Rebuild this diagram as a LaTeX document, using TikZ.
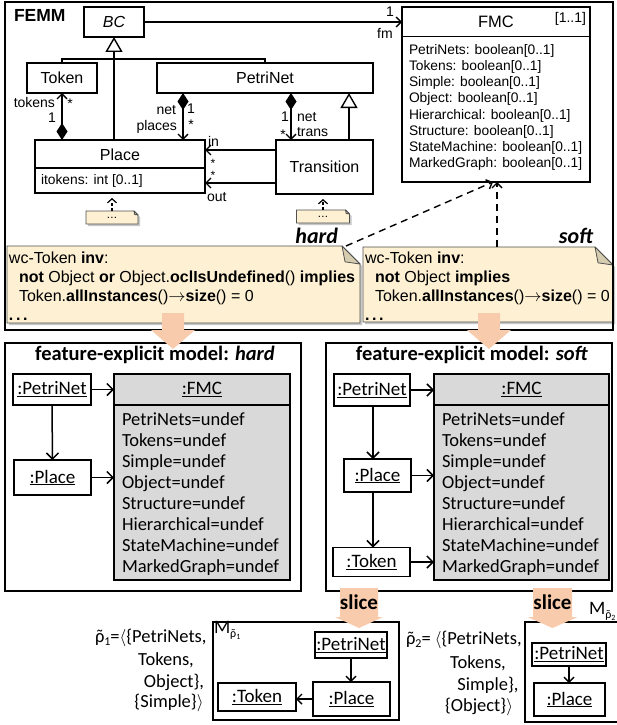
\documentclass[tikz,border=0pt]{standalone}
\usepackage{fontspec}
\setmainfont{Liberation Sans}
\newfontfamily\carl{Carlito}
\usetikzlibrary{arrows.meta,backgrounds,calc}

\definecolor{notefill}{RGB}{253,240,211}
\definecolor{notefold}{RGB}{214,204,176}
\definecolor{noteline}{RGB}{80,80,80}
\definecolor{salmon}{RGB}{248,203,173}
\definecolor{objgray}{RGB}{217,217,217}

\newcommand\fsz[2]{\fontsize{#1}{#2}\selectfont}
\newcommand\rhot{\ooalign{ρ\cr\hidewidth˜\hidewidth\cr}}
% note outline with folded corner: node, fold size
\newcommand\notedraw[2]{%
  \fill[black!22] ([xshift=2pt,yshift=-2pt]#1.north west) -- ([xshift=2pt-#2,yshift=-2pt]#1.north east)
     -- ([xshift=2pt,yshift=-2pt-#2]#1.north east) -- ([xshift=2pt,yshift=-2pt]#1.south east)
     -- ([xshift=2pt,yshift=-2pt]#1.south west) -- cycle;
  \filldraw[fill=notefill, draw=noteline, line width=0.8pt] (#1.north west) -- ([xshift=-#2]#1.north east)
     -- ([yshift=-#2]#1.north east) -- (#1.south east) -- (#1.south west) -- cycle;
  \filldraw[fill=notefold, draw=noteline, line width=0.8pt, line join=round] ([xshift=-#2]#1.north east)
     -- ([xshift=-#2+0.17*#2,yshift=-0.88*#2]#1.north east) -- ([yshift=-#2]#1.north east) -- cycle;}
% broad arrow: x, top y, tip y, half shaft, half head, head length
\newcommand\fatarrow[6]{%
  \fill[salmon] (#1-#4,#2) -- (#1+#4,#2) -- (#1+#4,#3-#6) -- (#1+#5,#3-#6) -- (#1,#3)
     -- (#1-#5,#3-#6) -- (#1-#4,#3-#6) -- cycle;}

\tikzset{
  every node/.style={outer sep=0pt, inner sep=0pt},
  frame/.style={draw, line width=1.6pt},
  cls/.style={draw, line width=1.5pt, font=\fsz{16}{19}},
  attrs/.style={font=\fsz{13.8}{16.15}, align=left, anchor=north west},
  lbl/.style={font=\fsz{14}{16}},
  link/.style={line width=1.4pt},
  comp/.style={link, {Diamond[length=17pt,width=11pt]}-{Straight Barb[length=5pt,width=10pt]}},
  gen/.style={link, -{Triangle[open,length=15pt,width=17pt]}},
  assoc/.style={link, -{Straight Barb[length=5pt,width=10pt]}},
  depend/.style={line width=1.2pt, dash pattern=on 3pt off 2.5pt, -{Straight Barb[length=4pt,width=9pt]}},
  depend2/.style={line width=1.4pt, dash pattern=on 7pt off 5pt, -{Straight Barb[length=5pt,width=10pt]}},
  notetext/.style={font=\fsz{16}{19}, align=left, anchor=north west},
  hslabel/.style={font=\carl\bfseries\itshape\fsz{22}{24}, anchor=east},
  objframe/.style={draw, line width=1.6pt},
  obj/.style={draw, line width=1.6pt, font=\carl\fsz{19}{21}},
  fmcobj/.style={draw, fill=objgray, line width=1.6pt},
  vals/.style={font=\carl\fsz{18.5}{21}, align=left, anchor=north west},
  ttl/.style={font=\carl\bfseries\fsz{20.5}{23}},
  objarrow/.style={line width=1.5pt, -{Straight Barb[length=6pt,width=12pt]}},
  smallarrow/.style={line width=1.4pt, -{Straight Barb[length=5pt,width=10pt]}},
  rho/.style={font=\carl\fsz{18.5}{21}},
  slicelbl/.style={font=\carl\bfseries\fsz{21}{23}},
}

\begin{document}
\begin{tikzpicture}[x=1pt,y=-1pt]
\useasboundingbox (0,0) rectangle (616,725);
\begin{scope}[on background layer]
  \fill[white] (0,0) rectangle (616,725);
\end{scope}

% ---------------- metamodel with feature model class ----------------
\node[frame, minimum width=608, minimum height=328, anchor=north west] (femm) at (5,2) {};
\node[anchor=west, font=\bfseries\fsz{17.5}{20}] (femmlbl) at (14,15) {FEMM};

\node[cls, minimum width=60, minimum height=30, font=\itshape\fsz{16}{19}] (bc) at (114,22) {BC};
\node[cls, minimum width=70, minimum height=30] (token) at (62,78) {Token};
\node[cls, minimum width=216, minimum height=30] (petri) at (265,78) {PetriNet};
\node[cls, minimum width=170, minimum height=53] (place) at (120,166.5) {};
\node[font=\fsz{16}{19}] (placename) at (120,154.5) {Place};
\draw[line width=1.5pt] ([yshift=-1.5pt]place.west) -- ([yshift=-1.5pt]place.east);
\node[anchor=west, font=\fsz{13.8}{16}] (itokens) at (41,181) {itokens: int [0..1]};
\node[cls, minimum width=97, minimum height=54] (trans) at (324.5,167) {Transition};

\node[cls, minimum width=188, minimum height=175] (fmc) at (496,94.5) {};
\draw[line width=1.5pt] ([yshift=-29.5pt]fmc.north west) -- ([yshift=-29.5pt]fmc.north east);
\node[font=\fsz{16.5}{19}] (fmcname) at (496,22) {FMC};
\node[anchor=east, font=\fsz{14}{16}] (fmcmult) at (586,19) {[1..1]};
\node[attrs] (fmcattrs) at (409,44.5) {PetriNets: boolean[0..1]\\Tokens: boolean[0..1]\\Simple: boolean[0..1]\\Object: boolean[0..1]\\Hierarchical: boolean[0..1]\\Structure: boolean[0..1]\\StateMachine: boolean[0..1]\\MarkedGraph: boolean[0..1]};

% association BC -> FMC
\draw[assoc] (bc.east) -- (fmc.north west |- bc.east);
\node[lbl] (mfm1) at (390,12) {1};
\node[lbl] (mfm) at (385,33) {fm};

% generalizations
\draw[gen] (bc.south |- place.north) -- (bc.south);
\coordinate (genjoin) at (114,59);
\draw[link] (token.north) |- (genjoin) -| (petri.north);
\coordinate (tgen) at ([xshift=84pt]petri.south);
\draw[gen] (tgen |- trans.north) -- (tgen);

% compositions
\draw[comp] (token.south |- place.north) -- (token.south);
\coordinate (pnplace) at ([xshift=-82pt]petri.south);
\draw[comp] (pnplace) -- (pnplace |- place.north);
\coordinate (pntrans) at ([xshift=26pt]petri.south);
\draw[comp] (pntrans) -- (pntrans |- trans.north);

% transition arcs
\coordinate (inT) at ([yshift=17pt]trans.west);
\draw[assoc] (inT) -- (inT -| place.east);
\coordinate (outT) at ([yshift=-16pt]trans.west);
\draw[assoc] (outT) -- (outT -| place.east);

% role names and multiplicities
\node[lbl, anchor=east] (rtokens) at (55,102) {tokens};
\node[lbl] (mtok) at (70,104) {*};
\node[lbl] (mtok1) at (52,118) {1};
\node[lbl, anchor=east] (rnet1) at (176,110) {net};
\node[lbl, anchor=east] (rplaces) at (177,127) {places};
\node[lbl] (mpl1) at (191,109) {1};
\node[lbl] (mpl2) at (191,125) {*};
\node[lbl] (mtr1) at (285,117) {1};
\node[lbl] (mtr2) at (283,135) {*};
\node[lbl, anchor=west] (rnet2) at (297,117) {net};
\node[lbl, anchor=west] (rtrans) at (297,132) {trans};
\node[lbl, anchor=west] (rin) at (208,141) {in};
\node[lbl, font=\fsz{12}{14}] (min) at (213,163) {*};
\node[lbl, font=\fsz{12}{14}] (mout) at (213,175) {*};
\node[lbl, anchor=west] (rout) at (207,197) {out};

% small annotation notes
\node[minimum width=52, minimum height=13, font=\bfseries\fsz{8}{8}] (dots1) at (112,217.5) {.\,.\,.};
\node[minimum width=53, minimum height=13, font=\bfseries\fsz{8}{8}] (dots2) at (323,216.5) {.\,.\,.};
\begin{scope}[on background layer]
  \notedraw{dots1}{4pt}
  \notedraw{dots2}{4pt}
\end{scope}
\draw[depend, shorten >=5pt] (dots1.north) -- (dots1.north |- place.south);
\draw[depend, shorten >=5pt] (dots2.north) -- (dots2.north |- trans.south);

% well-formedness constraints
\node[minimum width=353, minimum height=77] (hardnote) at (183.5,284.5) {};
\node[minimum width=250, minimum height=75] (softnote) at (488,284.5) {};
\begin{scope}[on background layer]
  \notedraw{hardnote}{18pt}
  \notedraw{softnote}{18pt}
\end{scope}
\node[notetext] (hardtext) at (9,251.5) {wc-Token \textbf{inv}:\\
  \hspace*{10pt}\textbf{not} Object \textbf{or} Object.\textbf{oclIsUndefined}() \textbf{implies}\\
  \hspace*{10pt}Token.\textbf{allInstances}()$\rightarrow$\textbf{size}() = 0\\
  \textbf{.\,.\,.}};
\node[notetext] (softtext) at (365,251.5) {wc-Token \textbf{inv}:\\
  \hspace*{10pt}\textbf{not} Object \textbf{implies}\\
  \hspace*{10pt}Token.\textbf{allInstances}()$\rightarrow$\textbf{size}() = 0\\
  \textbf{.\,.\,.}};
\node[hslabel] (hardlbl) at (338,236) {hard};
\node[hslabel] (softlbl) at (593,236) {soft};

\coordinate (hardtip) at ([xshift=-14pt]hardnote.north east);
\draw[depend2] (hardtip) -- ([xshift=-3pt]fmc.south);
\draw[depend2] ([xshift=9pt]softnote.north) -- ([xshift=1pt]fmc.south);

% ---------------- feature-explicit model: hard ----------------
\node[objframe, minimum width=296, minimum height=248] (hardbox) at (153,467) {};
\node[ttl] (hardttl) at (155,355) {feature-explicit model: \textit{hard}};
\node[obj, minimum width=78, minimum height=31] (hpn) at (52,389.5) {\underline{:PetriNet}};
\node[obj, minimum width=77, minimum height=35] (hplace) at (52.5,477.5) {\underline{:Place}};
\node[fmcobj, minimum width=176, minimum height=206] (hfmc) at (202,477) {};
\draw[line width=1.6pt] ([yshift=-31pt]hfmc.north west) -- ([yshift=-31pt]hfmc.north east);
\node[font=\carl\fsz{19}{21}] (hfmcname) at (202,389.5) {\underline{:FMC}};
\node[vals] (hvals) at (122,413) {PetriNets=undef\\Tokens=undef\\Simple=undef\\Object=undef\\Structure=undef\\Hierarchical=undef\\StateMachine=undef\\MarkedGraph=undef};
\draw[objarrow] (hpn.east) -- (hpn.east -| hfmc.west);
\draw[objarrow] (hplace.east) -- (hplace.east -| hfmc.west);
\draw[objarrow] (hpn.south) -- (hplace.north);

% ---------------- feature-explicit model: soft ----------------
\node[objframe, minimum width=286, minimum height=248] (softbox) at (469,467) {};
\node[ttl] (softttl) at (472,355) {feature-explicit model: \textit{soft}};
\node[obj, minimum width=76, minimum height=32] (spn) at (372,390) {\underline{:PetriNet}};
\node[obj, minimum width=67, minimum height=33] (splace) at (377.5,475.5) {\underline{:Place}};
\node[obj, minimum width=77, minimum height=29] (stoken) at (371.5,562) {\underline{:Token}};
\node[fmcobj, minimum width=175, minimum height=206] (sfmc) at (521.5,477) {};
\draw[line width=1.6pt] ([yshift=-31pt]sfmc.north west) -- ([yshift=-31pt]sfmc.north east);
\node[font=\carl\fsz{19}{21}] (sfmcname) at (521.5,389.5) {\underline{:FMC}};
\node[vals] (svals) at (442,413) {PetriNets=undef\\Tokens=undef\\Simple=undef\\Object=undef\\Structure=undef\\Hierarchical=undef\\StateMachine=undef\\MarkedGraph=undef};
\draw[objarrow] (spn.east) -- (spn.east -| sfmc.west);
\draw[objarrow] (splace.east) -- (splace.east -| sfmc.west);
\draw[objarrow] (stoken.east) -- (stoken.east -| sfmc.west);
\coordinate (scol) at (373,0);
\draw[objarrow] (scol |- spn.south) -- (scol |- splace.north);
\draw[objarrow] (scol |- splace.south) -- (scol |- stoken.north);

% derivation arrows
\fatarrow{173}{313}{349}{11}{22}{19}
\fatarrow{489}{313}{349}{11}{22}{19}

% ---------------- slices ----------------
\node[rho, anchor=west] (r1a) at (95,638) {\rhot\raisebox{-3pt}{\fsz{12}{12}1}=$\langle$\{PetriNets,};
\node[rho] (r1b) at (166,660) {Tokens,};
\node[rho] (r1c) at (174,682) {Object\},};
\node[rho] (r1d) at (169,703) {\{Simple\}$\rangle$};

\node[objframe, minimum width=186, minimum height=98] (m1) at (306,671) {};
\node[anchor=west, font=\carl\fsz{19}{21}] (m1lbl) at (214,630) {M\raisebox{-4pt}{\fsz{12}{12}\rhot\raisebox{-2pt}{\fsz{8}{8}1}}};
\node[obj, minimum width=72, minimum height=26] (m1pn) at (351,645) {\underline{:PetriNet}};
\node[obj, minimum width=77, minimum height=34] (m1place) at (351.5,699) {\underline{:Place}};
\node[obj, minimum width=78, minimum height=28] (m1token) at (257,697) {\underline{:Token}};
\draw[smallarrow] (m1pn.south) -- (m1pn.south |- m1place.north);
\draw[smallarrow] (m1place.west) -- (m1place.west -| m1token.east);

\node[rho, anchor=west] (r2a) at (406,640) {\rhot\raisebox{-3pt}{\fsz{12}{12}2}= $\langle$\{PetriNets,};
\node[rho] (r2b) at (478,663) {Tokens,};
\node[rho] (r2c) at (488,685) {Simple\},};
\node[rho] (r2d) at (479,707) {\{Object\}$\rangle$};

\node[objframe, minimum width=100, minimum height=100, anchor=north west] (m2) at (525,622) {};
\node[anchor=west, font=\carl\fsz{19}{21}] (m2lbl) at (589,611) {M\raisebox{-4pt}{\fsz{12}{12}\rhot\raisebox{-2pt}{\fsz{8}{8}2}}};
\node[obj, minimum width=74, minimum height=23] (m2pn) at (569,654.5) {\underline{:PetriNet}};
\node[obj, minimum width=71, minimum height=33] (m2place) at (569.5,699.5) {\underline{:Place}};
\draw[smallarrow] (m2pn.south) -- (m2pn.south |- m2place.north);

% slicing arrows
\fatarrow{359}{588}{628}{19}{24}{11}
\fatarrow{552.5}{588}{628}{19.5}{25}{11}
\node[slicelbl] (slice1) at (359,602) {slice};
\node[slicelbl] (slice2) at (552.5,602) {slice};
\end{tikzpicture}
\end{document}
